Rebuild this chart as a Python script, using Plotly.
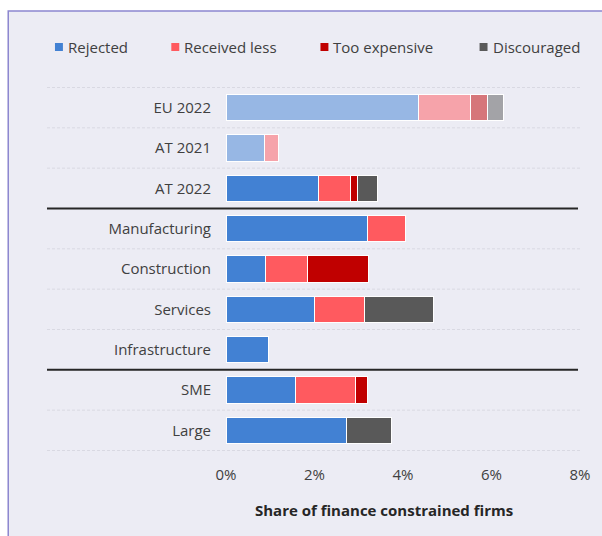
import plotly.graph_objects as go

categories = ["EU 2022", "AT 2021", "AT 2022", "Manufacturing", "Construction",
              "Services", "Infrastructure", "SME", "Large"]
series_names = ["Rejected", "Received less", "Too expensive", "Discouraged"]
rejected = [4.34, 0.86, 2.09, 3.20, 0.90, 1.99, 0.97, 1.58, 2.73]
received_less = [1.18, 0.32, 0.73, 0.86, 0.94, 1.13, None, 1.34, None]
too_expensive = [0.39, None, 0.15, None, 1.38, None, None, 0.27, None]
discouraged = [0.35, None, 0.46, None, None, 1.57, None, None, 1.00]
faded_categories = ["EU 2022", "AT 2021"]
group_sizes = [3, 4, 2]
x_ticks = [0, 2, 4, 6, 8]
x_title = "Share of finance constrained firms"

series_values = [rejected, received_less, too_expensive, discouraged]
series_rgb = [(66, 129, 211), (255, 90, 95), (192, 0, 0), (89, 89, 89)]

FONT = "Open Sans, Noto Sans, sans-serif"
TXT = "#404040"

# pixel geometry of the plot area
W, H = 602, 536
L, R, T, B = 226, 582, 87, 451
pw, ph = R - L, B - T


def px(x):
    return (x - L) / pw


def py(y):
    return (B - y) / ph


fig = go.Figure()
for name, vals, rgb in zip(series_names, series_values, series_rgb):
    cols = []
    for c in categories:
        a = 0.5 if c in faded_categories else 1.0
        cols.append(f"rgba({rgb[0]},{rgb[1]},{rgb[2]},{a})")
    fig.add_trace(go.Bar(
        y=categories, x=vals, name=name, orientation="h",
        marker=dict(color=cols, line=dict(color="white", width=1)),
        showlegend=False, hoverinfo="x+name",
    ))

shapes = []
# framed background panel
shapes.append(dict(type="rect", xref="paper", yref="paper",
                   x0=px(7), x1=px(640), y0=py(580), y1=py(11),
                   fillcolor="#ECECF4", line=dict(color="#8C86CF", width=1.5),
                   layer="below"))
# boundaries: dashed gridlines and solid group separators
breaks = []
acc = 0
for g in group_sizes[:-1]:
    acc += g
    breaks.append(acc - 0.5)
for i in range(len(categories) + 1):
    yb = i - 0.5
    if yb in breaks:
        shapes.append(dict(type="line", xref="paper", yref="y",
                           x0=px(46), x1=px(580), y0=yb, y1=yb,
                           line=dict(color="#262626", width=2)))
    else:
        shapes.append(dict(type="line", xref="paper", yref="y",
                           x0=px(46), x1=px(582), y0=yb, y1=yb,
                           line=dict(color="#D9D9E2", width=1, dash="3px,2px"),
                           layer="below"))

# manual legend
legend_sq_x = [54, 171, 321, 481]
annotations = []
for name, rgb, sx in zip(series_names, series_rgb, legend_sq_x):
    shapes.append(dict(type="rect", xref="paper", yref="paper",
                       x0=px(sx), x1=px(sx + 8), y0=py(51), y1=py(43),
                       fillcolor=f"rgb({rgb[0]},{rgb[1]},{rgb[2]})",
                       line=dict(width=0)))
    annotations.append(dict(xref="paper", yref="paper", x=px(sx + 11), y=py(47),
                            xanchor="left", yanchor="middle", showarrow=False,
                            text=name, font=dict(family=FONT, size=15, color=TXT)))

annotations.append(dict(xref="paper", yref="paper", x=px(385), y=py(510),
                        xanchor="center", yanchor="middle", showarrow=False,
                        text=f"<b>{x_title}</b>",
                        font=dict(family=FONT, size=15, color="#262626")))

fig.update_layout(
    width=W, height=H,
    margin=dict(l=L, r=W - R, t=T, b=H - B),
    barmode="stack", bargap=0.35,
    paper_bgcolor="white", plot_bgcolor="rgba(0,0,0,0)",
    font=dict(family=FONT, size=15, color=TXT),
    shapes=shapes, annotations=annotations,
    showlegend=False,
    xaxis=dict(range=[0, 8], tickvals=x_ticks,
               ticktext=[f"{v}%" for v in x_ticks],
               showgrid=False, zeroline=False, showline=False,
               ticks="outside", ticklen=10, tickcolor="rgba(0,0,0,0)",
               tickfont=dict(family=FONT, size=15, color=TXT), fixedrange=True),
    yaxis=dict(categoryorder="array", categoryarray=categories,
               autorange="reversed", showgrid=False, zeroline=False,
               showline=False, ticks="outside", ticklen=11,
               tickcolor="rgba(0,0,0,0)",
               tickfont=dict(family=FONT, size=15, color=TXT), fixedrange=True),
)

fig.write_html(
    "out.html",
    config={"displayModeBar": False},
    post_script="document.body.style.margin='0px';"
                "document.body.style.overflow='hidden';",
)
